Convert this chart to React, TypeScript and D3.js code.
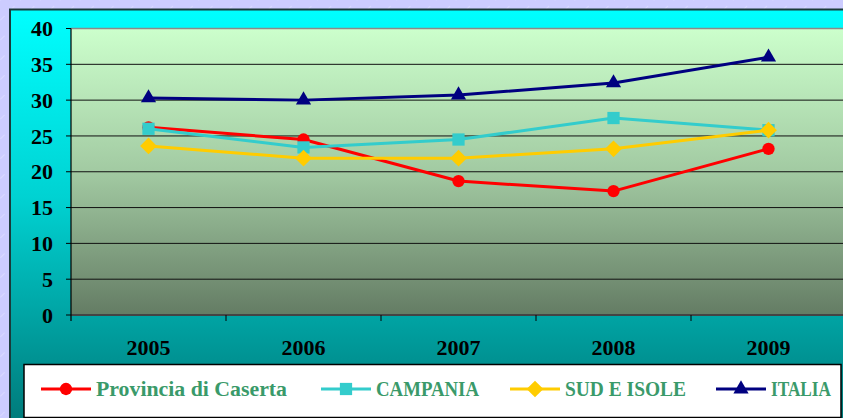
import * as d3 from 'd3';

const years = ['2005', '2006', '2007', '2008', '2009'];
const caserta = [26.2, 24.5, 18.7, 17.3, 23.2];
const campania = [26.0, 23.4, 24.5, 27.5, 25.8];
const sudIsole = [23.6, 21.9, 21.9, 23.2, 25.8];
const italia = [30.3, 30.0, 30.7, 32.4, 36.0];
const yTicks = [0, 5, 10, 15, 20, 25, 30, 35, 40];

const series = [
  { name: 'Provincia di Caserta', values: caserta, color: '#ff0000', marker: 'circle', lx: 41, tw: 191 },
  { name: 'CAMPANIA', values: campania, color: '#33cccc', marker: 'square', lx: 321, tw: 103 },
  { name: 'SUD E ISOLE', values: sudIsole, color: '#ffcc00', marker: 'diamond', lx: 510, tw: 121 },
  { name: 'ITALIA', values: italia, color: '#000080', marker: 'triangle', lx: 716, tw: 60 },
];

const W = 843;
const H = 418;
const plot = { left: 71, top: 28.5, right: 846, bottom: 315 };

const x = d3.scaleBand<string>().domain(years).range([plot.left, plot.right]);
const y = d3.scaleLinear().domain([0, 40]).range([plot.bottom, plot.top]);

const symbolFor: Record<string, { type: d3.SymbolType; size: number; rot: number }> = {
  circle: { type: d3.symbolCircle, size: 120, rot: 0 },
  square: { type: d3.symbolSquare, size: 150, rot: 0 },
  diamond: { type: d3.symbolSquare, size: 140, rot: 45 },
  triangle: { type: d3.symbolTriangle, size: 100, rot: 0 },
};

function Marker({ kind, cx, cy, color }: { kind: string; cx: number; cy: number; color: string }) {
  const s = symbolFor[kind];
  const d = d3.symbol().type(s.type).size(s.size)() || '';
  return <path d={d} transform={`translate(${cx},${cy}) rotate(${s.rot})`} fill={color} />;
}

export default function App() {
  const cx = (yr: string) => (x(yr) || 0) + x.bandwidth() / 2;
  const line = d3
    .line<number>()
    .x((_, i) => cx(years[i]))
    .y((v) => y(v));

  return (
    <svg
      width={W}
      height={H}
      style={{ position: 'absolute', left: 0, top: 0, display: 'block' }}
      fontFamily="'Liberation Serif', 'Times New Roman', serif"
    >
      <defs>
        <pattern id="stripes" width="14" height="14" patternUnits="userSpaceOnUse" patternTransform="rotate(-45)">
          <rect width="14" height="14" fill="#ccccff" />
          <line x1="0" y1="0" x2="6" y2="0" stroke="#e6e6ff" strokeWidth="1" />
        </pattern>
        <linearGradient id="outer" x1="0" y1="0" x2="0" y2="1">
          <stop offset="0" stopColor="#00ffff" />
          <stop offset="0.45" stopColor="#00d2d2" />
          <stop offset="1" stopColor="#007878" />
        </linearGradient>
        <linearGradient id="inner" x1="0" y1="0" x2="0" y2="1">
          <stop offset="0" stopColor="#ccffcc" />
          <stop offset="0.5" stopColor="#a2caa2" />
          <stop offset="1" stopColor="#647c64" />
        </linearGradient>
      </defs>

      <rect width={W} height={H} fill="url(#stripes)" />
      <rect x={10} y={9.5} width={W} height={H} fill="url(#outer)" stroke="#1a3a3a" strokeWidth={2} />

      <rect
        x={plot.left}
        y={plot.top}
        width={plot.right - plot.left}
        height={plot.bottom - plot.top}
        fill="url(#inner)"
      />
      <line x1={plot.left} x2={plot.right} y1={plot.top} y2={plot.top} stroke="#8a8a8a" strokeWidth={1.5} />

      {yTicks.filter((t) => t > 0 && t < 40).map((t) => (
        <line key={t} x1={plot.left} x2={plot.right} y1={y(t)} y2={y(t)} stroke="#111" strokeWidth={1} />
      ))}

      {/* axes */}
      <line x1={plot.left} x2={plot.right} y1={plot.bottom} y2={plot.bottom} stroke="#444" strokeWidth={2} />
      <line x1={plot.left} x2={plot.left} y1={plot.top} y2={plot.bottom + 6} stroke="#000" strokeWidth={1.2} />
      {yTicks.map((t) => (
        <g key={t}>
          <line x1={plot.left - 5} x2={plot.left} y1={y(t)} y2={y(t)} stroke="#000" strokeWidth={1} />
          <text x={53} y={y(t)} dy="0.35em" textAnchor="end" fontSize={22} fontWeight="bold" fill="#000">
            {t}
          </text>
        </g>
      ))}
      {years.map((yr) => (
        <g key={yr}>
          <line
            x1={(x(yr) || 0) + x.bandwidth()}
            x2={(x(yr) || 0) + x.bandwidth()}
            y1={plot.bottom}
            y2={plot.bottom + 6}
            stroke="#000"
            strokeWidth={1}
          />
          <text x={cx(yr)} y={355} textAnchor="middle" fontSize={22} fontWeight="bold" fill="#000">
            {yr}
          </text>
        </g>
      ))}

      {/* series */}
      {series.map((s) => (
        <g key={s.name}>
          <path d={line(s.values) || ''} fill="none" stroke={s.color} strokeWidth={3} strokeLinejoin="round" />
          {s.values.map((v, i) => (
            <Marker key={i} kind={s.marker} cx={cx(years[i])} cy={y(v)} color={s.color} />
          ))}
        </g>
      ))}

      {/* legend */}
      <rect x={24} y={364.5} width={817} height={53} fill="#fff" stroke="#000" strokeWidth={1.5} />
      {series.map((s) => (
        <g key={s.name}>
          <line x1={s.lx} x2={s.lx + 50} y1={389} y2={389} stroke={s.color} strokeWidth={3} />
          <Marker kind={s.marker} cx={s.lx + 25} cy={389} color={s.color} />
          <text
            x={s.lx + 55}
            y={396}
            fontSize={20}
            fontWeight="bold"
            fill="#3a9a6a"
            textLength={s.tw}
            lengthAdjust="spacingAndGlyphs"
          >
            {s.name}
          </text>
        </g>
      ))}
    </svg>
  );
}
